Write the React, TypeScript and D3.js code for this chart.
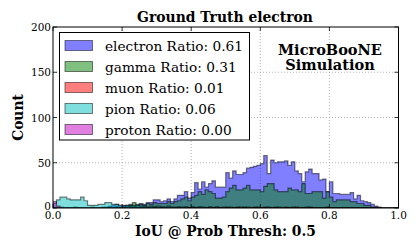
import React from "react";
import * as d3 from "d3";

const binEdges: number[] = d3.range(101).map((i) => i / 100);

const electron: number[] = [
  0, 0, 0, 0, 0, 0, 0, 0, 0, 0,
  0, 0, 0, 0, 0, 1, 2, 3, 4, 2,
  3, 3, 4, 3, 4, 5, 4, 6, 6, 9,
  9, 7, 8, 10, 7, 10, 14, 14, 18, 11,
  17, 28, 21, 29, 23, 27, 30, 23, 23, 23,
  39, 33, 41, 37, 37, 39, 44, 45, 46, 47,
  49, 58, 38, 53, 50, 51, 51, 52, 47, 51,
  41, 38, 29, 40, 43, 38, 38, 31, 32, 18,
  29, 16, 16, 15, 15, 15, 17, 10, 14, 8,
  7, 6, 4, 2, 1, 0, 0, 0, 0, 0,
];

const gamma: number[] = [
  0, 0, 0, 0, 0, 0, 0, 0, 0, 0,
  0, 0, 0, 0, 0, 0, 1, 0, 1, 0,
  1, 2, 3, 6, 3, 4, 3, 5, 4, 6,
  5, 5, 5, 7, 5, 7, 8, 10, 12, 8,
  12, 14, 18, 15, 20, 18, 16, 11, 11, 12,
  18, 22, 25, 20, 20, 22, 25, 20, 20, 20,
  18, 24, 27, 27, 20, 18, 18, 18, 22, 20,
  20, 18, 27, 16, 16, 18, 18, 18, 11, 18,
  12, 7, 9, 9, 9, 9, 7, 7, 5, 5,
  3, 3, 1, 1, 0, 0, 0, 0, 0, 0,
];

const muon: number[] = [
  0, 0, 1, 0, 0, 0, 1, 0, 0, 0,
  0, 1, 0, 0, 1, 0, 0, 0, 1, 0,
  0, 1, 0, 0, 1, 0, 1, 0, 0, 1,
  0, 1, 0, 1, 0, 0, 1, 0, 1, 0,
  1, 0, 1, 0, 0, 1, 0, 1, 0, 0,
  1, 0, 0, 1, 0, 1, 0, 0, 1, 0,
  0, 1, 0, 0, 1, 0, 0, 1, 0, 0,
  1, 0, 0, 0, 1, 0, 0, 0, 0, 1,
  0, 0, 0, 0, 0, 0, 0, 0, 0, 0,
  0, 0, 0, 0, 0, 0, 0, 0, 0, 0,
];

const pion: number[] = [
  5, 9, 12, 12, 10, 9, 9, 9, 12, 8,
  3, 3, 3, 4, 4, 6, 6, 4, 4, 3,
  2, 3, 2, 2, 3, 2, 2, 1, 2, 1,
  2, 1, 1, 2, 1, 1, 1, 1, 1, 0,
  1, 0, 1, 1, 0, 1, 0, 1, 0, 1,
  0, 1, 0, 0, 1, 0, 1, 0, 0, 1,
  0, 0, 1, 0, 0, 1, 0, 0, 0, 1,
  0, 0, 0, 1, 0, 0, 0, 0, 0, 0,
  0, 0, 0, 0, 0, 0, 0, 0, 0, 0,
  0, 0, 0, 0, 0, 0, 0, 0, 0, 0,
];

const proton: number[] = [
  7, 2, 0, 0, 0, 0, 0, 0, 0, 0,
  0, 0, 0, 0, 0, 0, 0, 0, 0, 0,
  0, 0, 0, 0, 0, 0, 0, 0, 0, 0,
  0, 0, 0, 0, 0, 0, 0, 0, 0, 0,
  0, 0, 0, 0, 0, 0, 0, 0, 0, 0,
  0, 0, 0, 0, 0, 0, 0, 0, 0, 0,
  0, 0, 0, 0, 0, 0, 0, 0, 0, 0,
  0, 0, 0, 0, 0, 0, 0, 0, 0, 0,
  0, 0, 0, 0, 0, 0, 0, 0, 0, 0,
  0, 0, 0, 0, 0, 0, 0, 0, 0, 0,
];

const seriesNames: string[] = ["electron", "gamma", "muon", "pion", "proton"];
const seriesRatios: string[] = ["0.61", "0.31", "0.01", "0.06", "0.00"];
const seriesColors: string[] = ["#0000ff", "#008000", "#ff0000", "#00bfbf", "#bf00bf"];
const seriesData: number[][] = [electron, gamma, muon, pion, proton];

const xTicks: number[] = [0, 0.2, 0.4, 0.6, 0.8, 1.0];
const yTicks: number[] = [0, 50, 100, 150, 200];

const title = "Ground Truth electron";
const xLabel = "IoU @ Prob Thresh: 0.5";
const yLabel = "Count";
const noteLines: string[] = ["MicroBooNE", "Simulation"];

const W = 419;
const H = 252;
const M = { left: 53, right: 398.5, top: 27, bottom: 208 };
const FONT = "DejaVu Serif";

// pick a font size so that the text spans the width seen in the reference
function fitSize(text: string, bold: boolean, target: number, fallback: number): number {
  try {
    const ctx = document.createElement("canvas").getContext("2d");
    if (!ctx) return fallback;
    ctx.font = `${bold ? "bold " : ""}100px "${FONT}"`;
    const w = ctx.measureText(text).width;
    if (!w) return fallback;
    return (100 * target) / w;
  } catch {
    return fallback;
  }
}

export default function App() {
  const x = d3.scaleLinear().domain([0, 1]).range([M.left, M.right]);
  const y = d3.scaleLinear().domain([0, 200]).range([M.bottom, M.top]);

  const sizes = React.useMemo(
    () => ({
      title: fitSize(title, true, 176, 13.5),
      xLabel: fitSize(xLabel, true, 181, 13.5),
      legend: fitSize("electron Ratio: 0.61", false, 138, 13.6),
      note: fitSize("MicroBooNE", true, 104, 14.5),
      tick: fitSize("200", false, 20, 11.5),
    }),
    []
  );

  const stepPath = (vals: number[]) => {
    const p = d3.path();
    p.moveTo(x(binEdges[0]), y(0));
    vals.forEach((v, i) => {
      p.lineTo(x(binEdges[i]), y(v));
      p.lineTo(x(binEdges[i + 1]), y(v));
    });
    p.lineTo(x(binEdges[binEdges.length - 1]), y(0));
    p.closePath();
    return p.toString();
  };

  const legX = 59.5;
  const legY = 32.5;
  const legW = 190;
  const legH = 107.5;
  const rowH = 21;

  return (
    <svg
      width={W}
      height={H}
      style={{ position: "absolute", left: 0, top: 0, background: "#fff" }}
    >
      <rect x={0} y={0} width={W} height={H} fill="#fff" />
      <defs>
        <clipPath id="plotclip">
          <rect x={M.left} y={M.top} width={M.right - M.left} height={M.bottom - M.top} />
        </clipPath>
      </defs>
      {/* grid */}
      <g stroke="#a0a0a0" strokeWidth={0.8} strokeDasharray="1 2">
        {xTicks.slice(1, -1).map((t) => (
          <line key={"gx" + t} x1={x(t)} x2={x(t)} y1={M.top} y2={M.bottom} />
        ))}
        {yTicks.slice(1, -1).map((t) => (
          <line key={"gy" + t} x1={M.left} x2={M.right} y1={y(t)} y2={y(t)} />
        ))}
      </g>
      {/* histograms */}
      <g clipPath="url(#plotclip)">
        {seriesData.map((vals, i) => (
          <path
            key={seriesNames[i]}
            d={stepPath(vals)}
            fill={seriesColors[i]}
            fillOpacity={0.5}
            stroke="#000"
            strokeOpacity={0.5}
            strokeWidth={1.2}
            strokeLinejoin="miter"
          />
        ))}
      </g>
      {/* ticks */}
      <g stroke="#000" strokeWidth={0.8}>
        {xTicks.map((t) => (
          <g key={"tx" + t}>
            <line x1={x(t)} x2={x(t)} y1={M.bottom} y2={M.bottom - 4} />
            <line x1={x(t)} x2={x(t)} y1={M.top} y2={M.top + 4} />
          </g>
        ))}
        {yTicks.map((t) => (
          <g key={"ty" + t}>
            <line x1={M.left} x2={M.left + 4} y1={y(t)} y2={y(t)} />
            <line x1={M.right} x2={M.right - 4} y1={y(t)} y2={y(t)} />
          </g>
        ))}
      </g>
      {/* frame */}
      <rect
        x={M.left}
        y={M.top}
        width={M.right - M.left}
        height={M.bottom - M.top}
        fill="none"
        stroke="#000"
        strokeWidth={1}
      />
      {/* tick labels */}
      <g fontSize={sizes.tick} fill="#000" fontFamily={FONT}>
        {xTicks.map((t) => (
          <text key={"lx" + t} x={x(t)} y={M.bottom + 11} textAnchor="middle">
            {t.toFixed(1)}
          </text>
        ))}
        {yTicks.map((t) => (
          <text key={"ly" + t} x={M.left - 2} y={y(t) + (t === 0 ? 2 : 4)} textAnchor="end">
            {t}
          </text>
        ))}
      </g>
      {/* title */}
      <text x={225} y={22} textAnchor="middle" fontSize={sizes.title} fontWeight="bold" fontFamily={FONT}>
        {title}
      </text>
      {/* axis labels */}
      <text x={225.5} y={236} textAnchor="middle" fontSize={sizes.xLabel} fontWeight="bold" fontFamily={FONT}>
        {xLabel}
      </text>
      <text
        transform={`translate(23,${(M.top + M.bottom) / 2}) rotate(-90)`}
        textAnchor="middle"
        fontSize={sizes.xLabel}
        fontWeight="bold"
        fontFamily={FONT}
      >
        {yLabel}
      </text>
      {/* note */}
      {noteLines.map((l, i) => (
        <text
          key={l}
          x={330}
          y={55 + i * 15}
          textAnchor="middle"
          fontSize={sizes.note}
          fontWeight="bold"
          fontFamily={FONT}
        >
          {l}
        </text>
      ))}
      {/* legend */}
      <rect x={legX} y={legY} width={legW} height={legH} fill="#fff" stroke="#000" strokeWidth={1} />
      {seriesNames.map((n, i) => (
        <g key={"leg" + n}>
          <rect
            x={65}
            y={40.5 + i * rowH}
            width={27.5}
            height={10}
            fill={seriesColors[i]}
            fillOpacity={0.5}
            stroke="#000"
            strokeOpacity={0.5}
            strokeWidth={1}
          />
          <text x={105} y={50.5 + i * rowH} fontSize={sizes.legend} fontFamily={FONT}>
            {`${n} Ratio: ${seriesRatios[i]}`}
          </text>
        </g>
      ))}
    </svg>
  );
}
